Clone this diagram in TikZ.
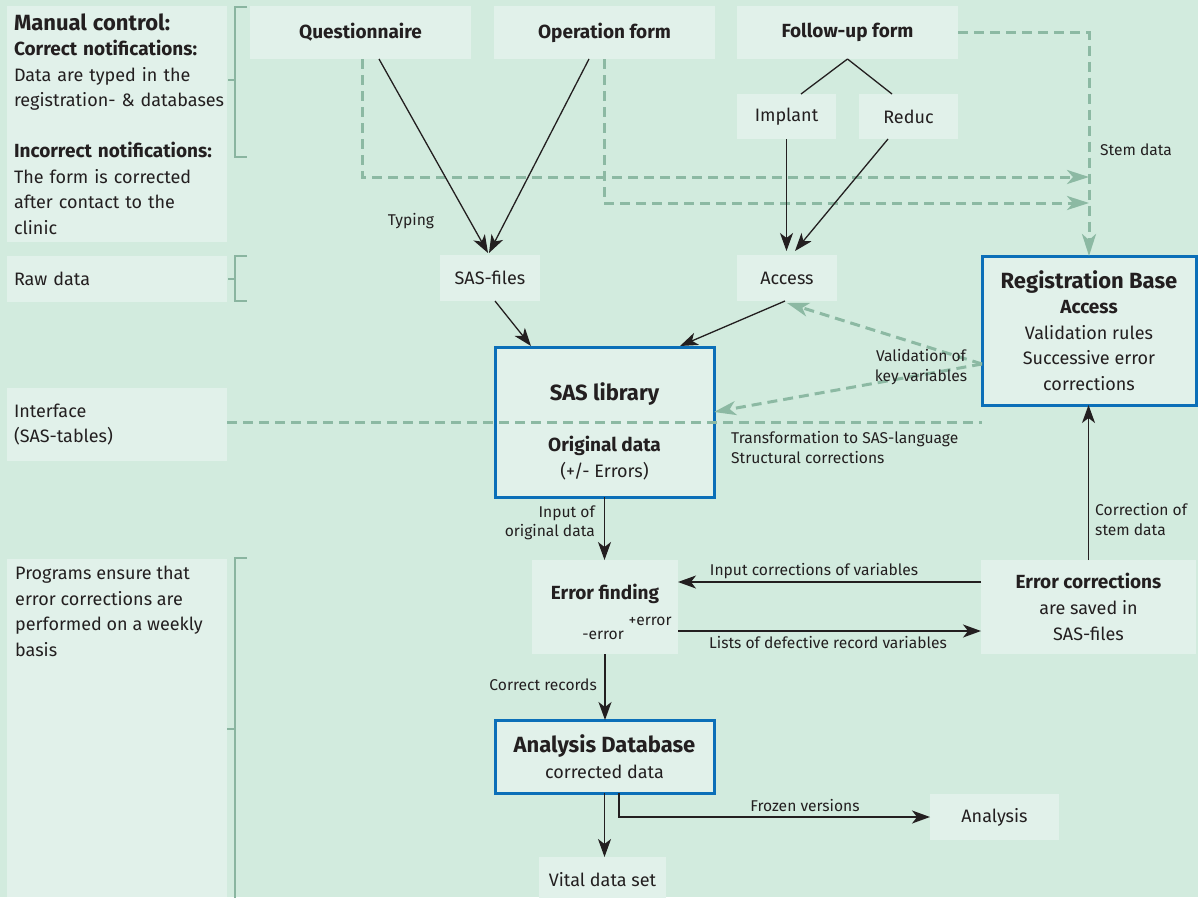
\documentclass[tikz,border=0pt]{standalone}
\usepackage{fontspec}
\setmainfont{Fira Sans}
\usetikzlibrary{arrows.meta,calc}
\definecolor{bgc}{HTML}{D2EBDE}
\definecolor{boxc}{HTML}{E1F1EA}
\definecolor{bluec}{HTML}{0B6FB8}
\definecolor{dashc}{HTML}{8CB9A3}
\definecolor{brkc}{HTML}{8AB5A0}
\definecolor{txtc}{HTML}{231F20}
\begin{document}
\begin{tikzpicture}[x=1pt,y=-1pt, font=\fontsize{18}{25.5}\selectfont, text=txtc,
 box/.style={fill=boxc, draw=none, inner sep=0pt, outer sep=0pt, align=center},
 bluebox/.style={box, draw=bluec, line width=3pt},
 lbox/.style={box, text width=206pt, inner xsep=7pt, inner ysep=0pt, align=left, font=\fontsize{18}{25.5}\selectfont},
 hd/.style={font=\fontsize{19}{25.5}\selectfont\bfseries},
 lbl/.style={inner sep=0pt, font=\fontsize{15.6}{19.5}\selectfont},
 ln/.style={draw=txtc, line width=1.3pt},
 arr/.style={ln, -{Stealth[length=18pt,width=13pt,inset=5pt]}},
 dsh/.style={draw=dashc, line width=3pt, dash pattern=on 10pt off 6pt},
 dsharr/.style={dsh, -{Stealth[length=22pt,width=14pt,inset=6pt]}},
 brk/.style={draw=brkc, line width=1.3pt},
]
\fill[bgc] (0,0) rectangle (1198,897);
\useasboundingbox (0,0) rectangle (1198,897);
\clip (0,0) rectangle (1198,897);

% left column
\node[lbox, minimum height=236pt] (mc) at (117,124) {{\fontsize{22}{25.5}\selectfont\bfseries Manual control:}\\ {\fontsize{19}{25.5}\selectfont\bfseries Correct notifications:}\\ Data are typed in the\\ \mbox{registration- \& databases}\\[25.5pt] {\fontsize{19}{25.5}\selectfont\bfseries \mbox{Incorrect notifications:}}\\ The form is corrected\\ after contact to the\\ clinic};
\node[lbox, minimum height=46pt] (rw) at (117,279) {Raw data};
\node[lbox, minimum height=73pt] (if) at (117,424.5) {Interface\\(SAS-tables)};
\node[box, minimum width=220pt, minimum height=338pt] (pr) at (117,728) {};
\node[anchor=north west, inner sep=0pt, align=left, font=\fontsize{18}{25.5}\selectfont] (prt) at (15,566) {Programs ensure that\\ error corrections are\\ performed on a weekly\\ basis};

% brackets
\draw[brk] (247,7) -- (235,7) -- (235,157) -- (247,157);
\draw[brk] (228,80) -- (235,80);
\draw[brk] (247,256) -- (235,256) -- (235,301) -- (247,301);
\draw[brk] (228,279) -- (235,279);
\draw[brk] (247,558) -- (235,558) -- (235,900);
\draw[brk] (227,729) -- (235,729);

% top row
\node[box, hd, minimum width=221pt, minimum height=53pt] (q) at (360.5,32.5) {Questionnaire};
\node[box, hd, minimum width=221pt, minimum height=53pt] (op) at (604.5,32.5) {Operation form};
\node[box, hd, minimum width=221pt, minimum height=53pt] (fu) at (847.5,32.5) {Follow-up form};
\node[box, minimum width=99pt, minimum height=45pt] (im) at (786.5,116.5) {Implant};
\node[box, minimum width=99pt, minimum height=45pt] (rd) at (908.5,116.5) {Reduc};

% middle
\node[box, minimum width=100pt, minimum height=46pt] (sf) at (490,278) {SAS-files};
\node[box, minimum width=100pt, minimum height=46pt] (ac) at (787,278) {Access};
\node[bluebox, minimum width=214pt, minimum height=149pt] (rb) at (1089,330.5) {{\fontsize{22}{25.5}\selectfont\bfseries Registration Base}\\ {\fontsize{19}{25.5}\selectfont\bfseries Access}\\ Validation rules\\ Successive error\\ corrections};
\node[bluebox, minimum width=219pt, minimum height=150pt] (sl) at (604.5,422) {};
\node[inner sep=0pt, font=\fontsize{22}{24}\selectfont\bfseries] (slt) at (604.5,394) {SAS library};
\node[inner sep=0pt, align=center, font=\fontsize{18}{26}\selectfont] (slo) at (604.5,458) {{\fontsize{19}{26}\selectfont\bfseries Original data}\\(+/- Errors)};

% lower
\node[box, minimum width=146pt, minimum height=94pt] (ef) at (605,607) {};
\node[inner sep=0pt, hd] (eft) at (605,594) {Error finding};
\node[lbl] (pe) at (650,621) {+error};
\node[lbl] (me) at (603,635) {-error};
\node[box, minimum width=215pt, minimum height=94pt, font=\fontsize{18}{26}\selectfont] (ec) at (1088.5,607) {{\fontsize{19}{26}\selectfont\bfseries Error corrections}\\ are saved in\\ SAS-files};
\node[bluebox, minimum width=219pt, minimum height=73pt] (ad) at (604.5,756.5) {{\fontsize{22}{26}\selectfont\bfseries Analysis Database}\\ corrected data};
\node[box, minimum width=127pt, minimum height=46pt] (vd) at (602.5,880) {Vital data set};
\node[box, minimum width=129pt, minimum height=46pt] (an) at (994.5,817) {Analysis};

% dashed connectors
\coordinate (d1) at (0,177);
\coordinate (d2) at (0,203);
\draw[dsharr] ([xshift=1.5pt]q.south) |- (rb.north |- d1);
\draw[dsharr] ([xshift=-0.5pt]op.south) |- (rb.north |- d2);
\draw[dsharr] (fu.east) -| (rb.north);
\coordinate (ifl) at ([yshift=2.5pt]if.east);
\draw[dsh] (ifl) -- (rb.west |- ifl);
\coordinate (vs) at ([yshift=-33.5pt]rb.west);
\draw[dsharr] (vs) -- ([yshift=-2pt]ac.south);
\draw[dsharr] (vs) -- ([yshift=10pt]sl.east);

% solid connectors
\draw[ln] (fu.south) -- ([xshift=14.5pt]im.north);
\draw[ln] (fu.south) -- ([xshift=-16.5pt]rd.north);
\draw[arr] ([xshift=18.5pt]q.south) -- ([xshift=-2pt,yshift=2pt]sf.north);
\draw[arr] ([xshift=-15.5pt]op.south) -- ([xshift=-1pt,yshift=2pt]sf.north);
\draw[arr] (im.south) -- ([xshift=-0.5pt,yshift=4pt]ac.north);
\draw[arr] ([xshift=-20.5pt]rd.south) -- ([xshift=8pt,yshift=4pt]ac.north);
\draw[arr] ([xshift=5pt]sf.south) -- ([xshift=-73.5pt,yshift=1pt]sl.north);
\draw[arr] ([xshift=-2pt]ac.south) -- ([xshift=75.5pt,yshift=1pt]sl.north);
\draw[arr] (sl.south) -- (sl.south |- ef.north);
\draw[arr] ([yshift=25pt]ec.west) -- ([yshift=25pt]ef.east);
\draw[arr] ([yshift=-24pt]ef.east) -- ([yshift=-24pt]ec.west);
\draw[arr] (ec.north) -- (ec.north |- rb.south);
\draw[arr] (ef.south) -- (ef.south |- ad.north);
\draw[arr] (ad.south) -- (ad.south |- vd.north);
\draw[arr] ([xshift=14.5pt]ad.south) |- (an.west);

% labels
\node[lbl] (typ) at (411,221) {Typing};
\node[lbl, anchor=west] (stem) at (1100,150) {Stem data};
\node[lbl, align=center] (val) at (921,367) {Validation of\\key variables};
\node[lbl, align=left, anchor=west] (trf) at (731,447.5) {Transformation to SAS-language\\Structural corrections};
\node[lbl, align=right, anchor=east] (inp) at (595,523) {Input of\\original data};
\node[lbl, align=left, anchor=west] (cos) at (1095,519.5) {Correction of\\stem data};
\node[lbl] (icv) at (814,571) {Input corrections of variables};
\node[lbl] (ldr) at (828,642) {Lists of defective record variables};
\node[lbl, anchor=east] (crr) at (597,685) {Correct records};
\node[lbl] (frz) at (805,805) {Frozen versions};
\end{tikzpicture}
\end{document}
